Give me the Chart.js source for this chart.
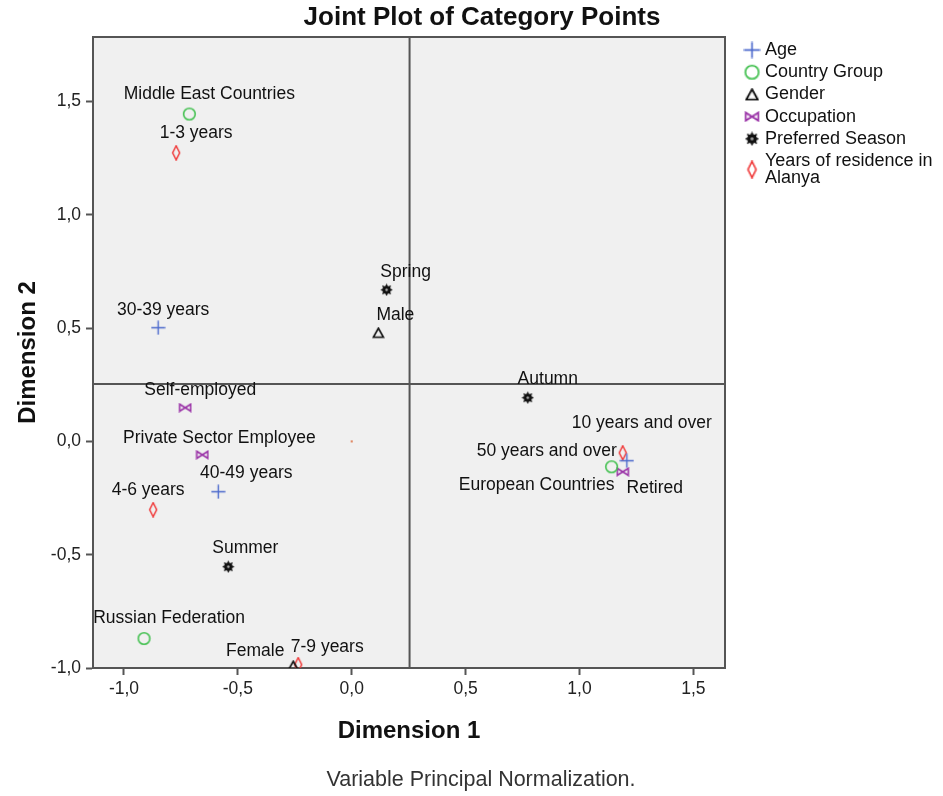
<!DOCTYPE html>
<html>
<head>
<meta charset="utf-8">
<title>Joint Plot of Category Points</title>
<script src="https://cdn.jsdelivr.net/npm/chart.js@4.4.1/dist/chart.umd.min.js"></script>
<style>
  html, body { margin: 0; padding: 0; background: #fff; }
  #wrap { width: 943px; height: 796px; }
</style>
</head>
<body>
<div id="wrap"><canvas id="jointPlot" width="943" height="796"></canvas></div>
<script>
// Category points (dimension 1, dimension 2)
const ageLabels = ['30-39 years', '40-49 years', '50 years and over'];
const ageX = [-0.850, -0.586, 1.208];
const ageY = [0.502, -0.222, -0.085];

const countryLabels = ['Middle East Countries', 'Russian Federation', 'European Countries'];
const countryX = [-0.713, -0.912, 1.141];
const countryY = [1.445, -0.870, -0.112];

const genderLabels = ['Male', 'Female'];
const genderX = [0.117, -0.257];
const genderY = [0.480, -0.990];

const occupationLabels = ['Self-employed', 'Private Sector Employee', 'Retired'];
const occupationX = [-0.731, -0.656, 1.190];
const occupationY = [0.149, -0.059, -0.134];

const seasonLabels = ['Spring', 'Autumn', 'Summer'];
const seasonX = [0.153, 0.773, -0.542];
const seasonY = [0.669, 0.193, -0.553];

const residenceLabels = ['1-3 years', '4-6 years', '7-9 years', '10 years and over'];
const residenceX = [-0.771, -0.872, -0.235, 1.190];
const residenceY = [1.274, -0.301, -0.985, -0.050];

// small unlabelled point sitting at the origin
const originX = [0];
const originY = [0];

const legendNames = ['Age', 'Country Group', 'Gender', 'Occupation', 'Preferred Season', 'Years of residence in|Alanya'];

const xTicks = [-1, -0.5, 0, 0.5, 1, 1.5];
const yTicks = [-1, -0.5, 0, 0.5, 1, 1.5];
const refX = 0.254;
const refY = 0.254;

// where each label sits relative to its marker (px)
const labelOffset = {
    'Middle East Countries': { dx: 20, dy: -20 },
    '1-3 years': { dx: 20, dy: -20 },
    '30-39 years': { dx: 5, dy: -18 },
    'Spring': { dx: 19, dy: -18 },
    'Male': { dx: 17, dy: -18 },
    'Autumn': { dx: 20, dy: -19 },
    '10 years and over': { dx: 19, dy: -30 },
    '50 years and over': { dx: -10, dy: -10, align: 'right' },
    'European Countries': { dx: -75, dy: 18 },
    'Retired': { dx: 32, dy: 16 },
    'Self-employed': { dx: 15, dy: -17 },
    'Private Sector Employee': { dx: 17, dy: -17 },
    '40-49 years': { dx: 28, dy: -19 },
    '4-6 years': { dx: -5, dy: -19 },
    'Summer': { dx: 17, dy: -19 },
    'Russian Federation': { dx: 25, dy: -20 },
    'Female': { dx: -38, dy: -15 },
    '7-9 years': { dx: 29, dy: -17 }
};

const FONT = "'Liberation Sans', Arial, Helvetica, sans-serif";

// marker glyphs drawn on small canvases, used as pointStyle
function makeMarker(w, h, draw) {
    const c = document.createElement('canvas');
    c.width = w;
    c.height = h;
    const g = c.getContext('2d');
    g.lineWidth = 1.4;
    draw(g);
    return c;
}

const plusMarker = makeMarker(15, 15, g => {
    g.strokeStyle = '#4a68cc';
    g.beginPath();
    g.moveTo(7.5, 0.5); g.lineTo(7.5, 14.5);
    g.moveTo(0.5, 7.5); g.lineTo(14.5, 7.5);
    g.stroke();
});
const circleMarker = makeMarker(15, 15, g => {
    g.strokeStyle = '#45c152';
    g.lineWidth = 1.6;
    g.beginPath();
    g.arc(7.5, 7.5, 5.8, 0, Math.PI * 2);
    g.stroke();
});
const triangleMarker = makeMarker(13, 12, g => {
    g.strokeStyle = '#111';
    g.lineWidth = 1.6;
    g.beginPath();
    g.moveTo(6.5, 1.5); g.lineTo(11.5, 10.5); g.lineTo(1.5, 10.5);
    g.closePath();
    g.stroke();
});
const bowtieMarker = makeMarker(14, 10, g => {
    g.strokeStyle = '#9b35a8';
    g.lineWidth = 1.6;
    g.beginPath();
    g.moveTo(1.5, 1.5); g.lineTo(12.5, 8.5); g.lineTo(12.5, 1.5); g.lineTo(1.5, 8.5);
    g.closePath();
    g.stroke();
});
const starMarker = makeMarker(13, 13, g => {
    g.fillStyle = '#111';
    g.beginPath();
    for (let i = 0; i < 16; i++) {
        const r = i % 2 === 0 ? 6.2 : 3.9;
        const a = i * Math.PI / 8;
        const px = 6.5 + r * Math.cos(a), py = 6.5 + r * Math.sin(a);
        if (i === 0) g.moveTo(px, py); else g.lineTo(px, py);
    }
    g.closePath();
    g.fill();
    g.fillStyle = '#bbb';
    g.beginPath();
    g.arc(6.5, 6.5, 1.2, 0, Math.PI * 2);
    g.fill();
});
const diamondMarker = makeMarker(10, 16, g => {
    g.strokeStyle = '#f03a3a';
    g.lineWidth = 1.5;
    g.beginPath();
    g.moveTo(5, 1); g.lineTo(8.5, 8); g.lineTo(5, 15); g.lineTo(1.5, 8);
    g.closePath();
    g.stroke();
});
const legendMarkers = [plusMarker, circleMarker, triangleMarker, bowtieMarker, starMarker, diamondMarker];

function toPoints(xs, ys) {
    return xs.map((x, i) => ({ x: x, y: ys[i] }));
}

function makeSet(name, labels, xs, ys, marker) {
    return {
        label: name,
        names: labels,
        data: toPoints(xs, ys),
        pointStyle: marker,
        pointRadius: 6,
        pointHoverRadius: 6
    };
}

const commaTick = v => v.toFixed(1).replace('.', ',');

const jointPlotExtras = {
    id: 'jointPlotExtras',
    beforeDraw(chart) {
        const { ctx, chartArea: a } = chart;
        ctx.save();
        ctx.fillStyle = '#f0f0f0';
        ctx.fillRect(a.left, a.top, a.right - a.left, a.bottom - a.top);
        ctx.restore();
    },
    beforeDatasetsDraw(chart) {
        const { ctx, chartArea: a, scales } = chart;
        const px = scales.x.getPixelForValue(refX);
        const py = scales.y.getPixelForValue(refY);
        ctx.save();
        ctx.strokeStyle = '#555';
        ctx.lineWidth = 2;
        ctx.beginPath();
        ctx.moveTo(px, a.top); ctx.lineTo(px, a.bottom);
        ctx.moveTo(a.left, py); ctx.lineTo(a.right, py);
        ctx.stroke();
        ctx.restore();
    },
    afterDatasetsDraw(chart) {
        const { ctx, chartArea: a } = chart;
        ctx.save();
        // top and right edges of the frame
        ctx.strokeStyle = '#555';
        ctx.lineWidth = 2;
        ctx.beginPath();
        ctx.moveTo(a.left, a.top); ctx.lineTo(a.right, a.top); ctx.lineTo(a.right, a.bottom);
        ctx.stroke();

        // title (centred on the whole picture, not the plot)
        ctx.fillStyle = '#111';
        ctx.textAlign = 'center';
        ctx.textBaseline = 'middle';
        ctx.font = 'bold 26px ' + FONT;
        ctx.fillText('Joint Plot of Category Points', 482, 18);

        // point labels
        ctx.font = '17.5px ' + FONT;
        chart.data.datasets.forEach((ds, di) => {
            if (!ds.names) return;
            chart.getDatasetMeta(di).data.forEach((pt, i) => {
                const name = ds.names[i];
                const off = labelOffset[name] || { dx: 0, dy: -18 };
                ctx.textAlign = off.align || 'center';
                ctx.fillText(name, pt.x + off.dx, pt.y + off.dy);
            });
        });

        // legend on the right
        ctx.textAlign = 'left';
        ctx.font = '18px ' + FONT;
        let y = 50;
        legendNames.forEach((name, i) => {
            const lines = name.split('|');
            const mk = legendMarkers[i];
            const w = mk.width * 1.15, h = mk.height * 1.15;
            const my = y + (lines.length - 1) * 8.5;
            ctx.drawImage(mk, 752 - w / 2, my - h / 2, w, h);
            lines.forEach((line, j) => ctx.fillText(line, 765, y + j * 17));
            y += 22.2;
        });

        // footnote
        ctx.textAlign = 'center';
        ctx.fillStyle = '#333';
        ctx.font = '21.5px ' + FONT;
        ctx.fillText('Variable Principal Normalization.', 481, 780);
        ctx.restore();
    }
};

const ctx = document.getElementById('jointPlot').getContext('2d');
new Chart(ctx, {
    type: 'scatter',
    data: {
        datasets: [
            makeSet('Age', ageLabels, ageX, ageY, plusMarker),
            makeSet('Country Group', countryLabels, countryX, countryY, circleMarker),
            makeSet('Gender', genderLabels, genderX, genderY, triangleMarker),
            makeSet('Occupation', occupationLabels, occupationX, occupationY, bowtieMarker),
            makeSet('Preferred Season', seasonLabels, seasonX, seasonY, starMarker),
            makeSet('Years of residence in Alanya', residenceLabels, residenceX, residenceY, diamondMarker),
            {
                label: 'origin',
                data: toPoints(originX, originY),
                pointStyle: 'rect',
                pointRadius: 1.5,
                borderWidth: 0,
                backgroundColor: '#e08a66'
            }
        ]
    },
    options: {
        responsive: false,
        animation: false,
        events: [],
        layout: { padding: { top: 37, right: 218, bottom: 0, left: 0 } },
        plugins: {
            legend: { display: false },
            tooltip: { enabled: false },
            title: { display: false }
        },
        scales: {
            x: {
                type: 'linear',
                min: -1.136,
                max: 1.639,
                afterFit: s => { s.height = 128; },
                afterBuildTicks: s => { s.ticks = xTicks.map(v => ({ value: v })); },
                ticks: { callback: commaTick, color: '#222', font: { family: FONT, size: 17.5 }, padding: 4, maxRotation: 0 },
                grid: { drawOnChartArea: false, tickLength: 7, tickWidth: 2, tickColor: '#555' },
                border: { color: '#555', width: 2 },
                title: {
                    display: true,
                    text: 'Dimension 1',
                    color: '#111',
                    font: { family: FONT, size: 24, weight: 'bold' },
                    padding: { top: 0, bottom: 50 }
                }
            },
            y: {
                type: 'linear',
                min: -1.0,
                max: 1.785,
                afterFit: s => { s.width = 93; },
                afterBuildTicks: s => { s.ticks = yTicks.map(v => ({ value: v })); },
                ticks: { callback: commaTick, color: '#222', font: { family: FONT, size: 17.5 }, padding: 5 },
                grid: { drawOnChartArea: false, tickLength: 7, tickWidth: 2, tickColor: '#555' },
                border: { color: '#555', width: 2 },
                title: {
                    display: true,
                    text: 'Dimension 2',
                    color: '#111',
                    font: { family: FONT, size: 24, weight: 'bold' },
                    padding: { top: 14, bottom: 0 }
                }
            }
        }
    },
    plugins: [jointPlotExtras]
});
</script>
</body>
</html>
